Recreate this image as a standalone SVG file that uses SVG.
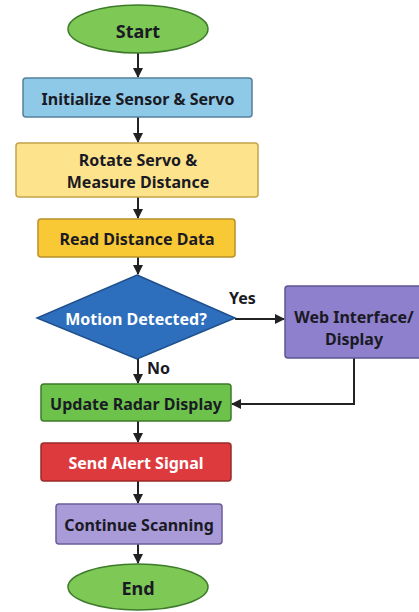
<svg xmlns="http://www.w3.org/2000/svg" width="419" height="612" viewBox="0 0 419 612">
<style>
text{font-family:"Noto Sans","Open Sans","DejaVu Sans",sans-serif;font-weight:bold;font-size:16px;text-anchor:middle;dominant-baseline:central;fill:#1a1a24}
.w{fill:#ffffff}
.c{stroke:#222;stroke-width:2;fill:none}
.lbl{text-anchor:start}
.big{font-size:18px}
</style>
<defs>
<marker id="ah" markerWidth="10" markerHeight="10" refX="9" refY="5" orient="auto" markerUnits="userSpaceOnUse">
<path d="M0,0 L10,5 L0,10 z" fill="#222"/>
</marker>
</defs>
<rect width="419" height="612" fill="#ffffff"/>
<g id="connectors">
<line class="c" x1="138" y1="52" x2="138" y2="77" marker-end="url(#ah)"/>
<line class="c" x1="138" y1="117" x2="138" y2="142" marker-end="url(#ah)"/>
<line class="c" x1="138" y1="197" x2="138" y2="218" marker-end="url(#ah)"/>
<line class="c" x1="138" y1="257" x2="138" y2="274" marker-end="url(#ah)"/>
<line class="c" x1="235" y1="319" x2="284" y2="319" marker-end="url(#ah)"/>
<line class="c" x1="138" y1="359" x2="138" y2="383" marker-end="url(#ah)"/>
<polyline class="c" points="354,358 354,404 232,404" marker-end="url(#ah)"/>
<line class="c" x1="138" y1="421" x2="138" y2="442" marker-end="url(#ah)"/>
<line class="c" x1="138" y1="481" x2="138" y2="503" marker-end="url(#ah)"/>
<line class="c" x1="138" y1="544" x2="138" y2="563" marker-end="url(#ah)"/>
<text class="lbl" x="229" y="298">Yes</text>
<text class="lbl" x="147" y="368">No</text>
</g>
<g id="start">
<ellipse cx="138" cy="29" rx="70" ry="24" fill="#7ec856" stroke="#3d7a2a" stroke-width="1.5"/>
<text class="big" x="138" y="31">Start</text>
</g>
<g id="init">
<rect x="23" y="78" width="229" height="39" rx="3" fill="#8ec9e8" stroke="#55809a" stroke-width="1.5"/>
<text x="138" y="99">Initialize Sensor &amp; Servo</text>
</g>
<g id="rotate">
<rect x="16" y="143" width="242" height="54" rx="3" fill="#fde48c" stroke="#c4a44a" stroke-width="1.5"/>
<text x="138" y="160">Rotate Servo &amp;</text>
<text x="138" y="182">Measure Distance</text>
</g>
<g id="read">
<rect x="38" y="219" width="197" height="38" rx="3" fill="#f8c934" stroke="#b8902a" stroke-width="1.5"/>
<text x="137" y="239">Read Distance Data</text>
</g>
<g id="decision">
<polygon points="137,275 235,318 137,359 37,318" fill="#2e6fbd" stroke="#1f4f8c" stroke-width="1.5"/>
<text class="w" x="136" y="319">Motion Detected?</text>
</g>
<g id="web">
<rect x="285" y="286" width="140" height="72" rx="3" fill="#8e80cc" stroke="#5e5590" stroke-width="1.5"/>
<text x="354" y="317">Web Interface/</text>
<text x="354" y="339">Display</text>
</g>
<g id="update">
<rect x="41" y="384" width="190" height="37" rx="3" fill="#6cc24a" stroke="#3d7a2a" stroke-width="1.5"/>
<text x="136" y="404">Update Radar Display</text>
</g>
<g id="alert">
<rect x="41" y="443" width="190" height="38" rx="3" fill="#dd3a3e" stroke="#9a2a2a" stroke-width="1.5"/>
<text class="w" x="136" y="463">Send Alert Signal</text>
</g>
<g id="continue">
<rect x="56" y="504" width="166" height="40" rx="3" fill="#a99ad8" stroke="#6a5e9a" stroke-width="1.5"/>
<text x="139" y="525">Continue Scanning</text>
</g>
<g id="end">
<ellipse cx="138" cy="587" rx="70" ry="23" fill="#7ec856" stroke="#3d7a2a" stroke-width="1.5"/>
<text class="big" x="138" y="588">End</text>
</g>
</svg>
